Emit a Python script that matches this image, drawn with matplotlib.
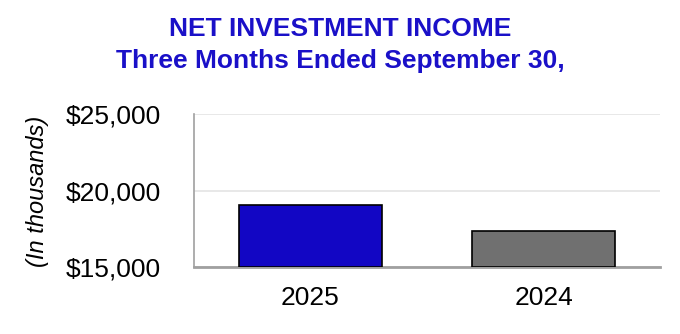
import matplotlib
matplotlib.use("Agg")
import matplotlib.pyplot as plt

years = ["2025", "2024"]
income = [19030, 17330]
colors = ["#1206c4", "#707070"]
yticks = [15000, 20000, 25000]

plt.rcParams['font.family'] = ['Liberation Sans', 'DejaVu Sans']

fig = plt.figure(figsize=(6.8, 3.34), dpi=100)
ax = fig.add_axes([194 / 680, 1 - 267 / 334, 466 / 680, 153 / 334])

x = range(len(years))
ax.bar(x, [v - 15000 for v in income], bottom=15000, width=0.615,
       color=colors, edgecolor="black", linewidth=1.2, zorder=3)

ax.set_xlim(-0.5, 1.5)
ax.set_ylim(15000, 25000)
ax.set_yticks(yticks)
ax.set_yticklabels(["${:,}".format(v) for v in yticks], fontsize=19)
ax.set_xticks(list(x))
ax.set_xticklabels(years, fontsize=19)
ax.tick_params(length=0)
ax.tick_params(axis="x", pad=14)
ax.tick_params(axis="y", pad=24)
ax.grid(axis="y", color="#e4e4e4", linewidth=1.2, zorder=0)

for s in ["top", "right"]:
    ax.spines[s].set_visible(False)
ax.spines["left"].set_color("#a0a0a0")
ax.spines["left"].set_linewidth(1.2)
ax.spines["bottom"].set_color("#a0a0a0")
ax.spines["bottom"].set_linewidth(2)

fig.text(0.5, 1 - 29 / 334, "NET INVESTMENT INCOME", ha="center", va="center",
         fontsize=19, fontweight="bold", color="#1a10c8")
fig.text(0.5, 1 - 61 / 334, "Three Months Ended September 30,", ha="center", va="center",
         fontsize=19, fontweight="bold", color="#1a10c8")
fig.text(38 / 680, 1 - 191 / 334, "(In thousands)", rotation=90, ha="center", va="center",
         fontsize=17, style="italic")

fig.savefig("out.png", dpi=100)
